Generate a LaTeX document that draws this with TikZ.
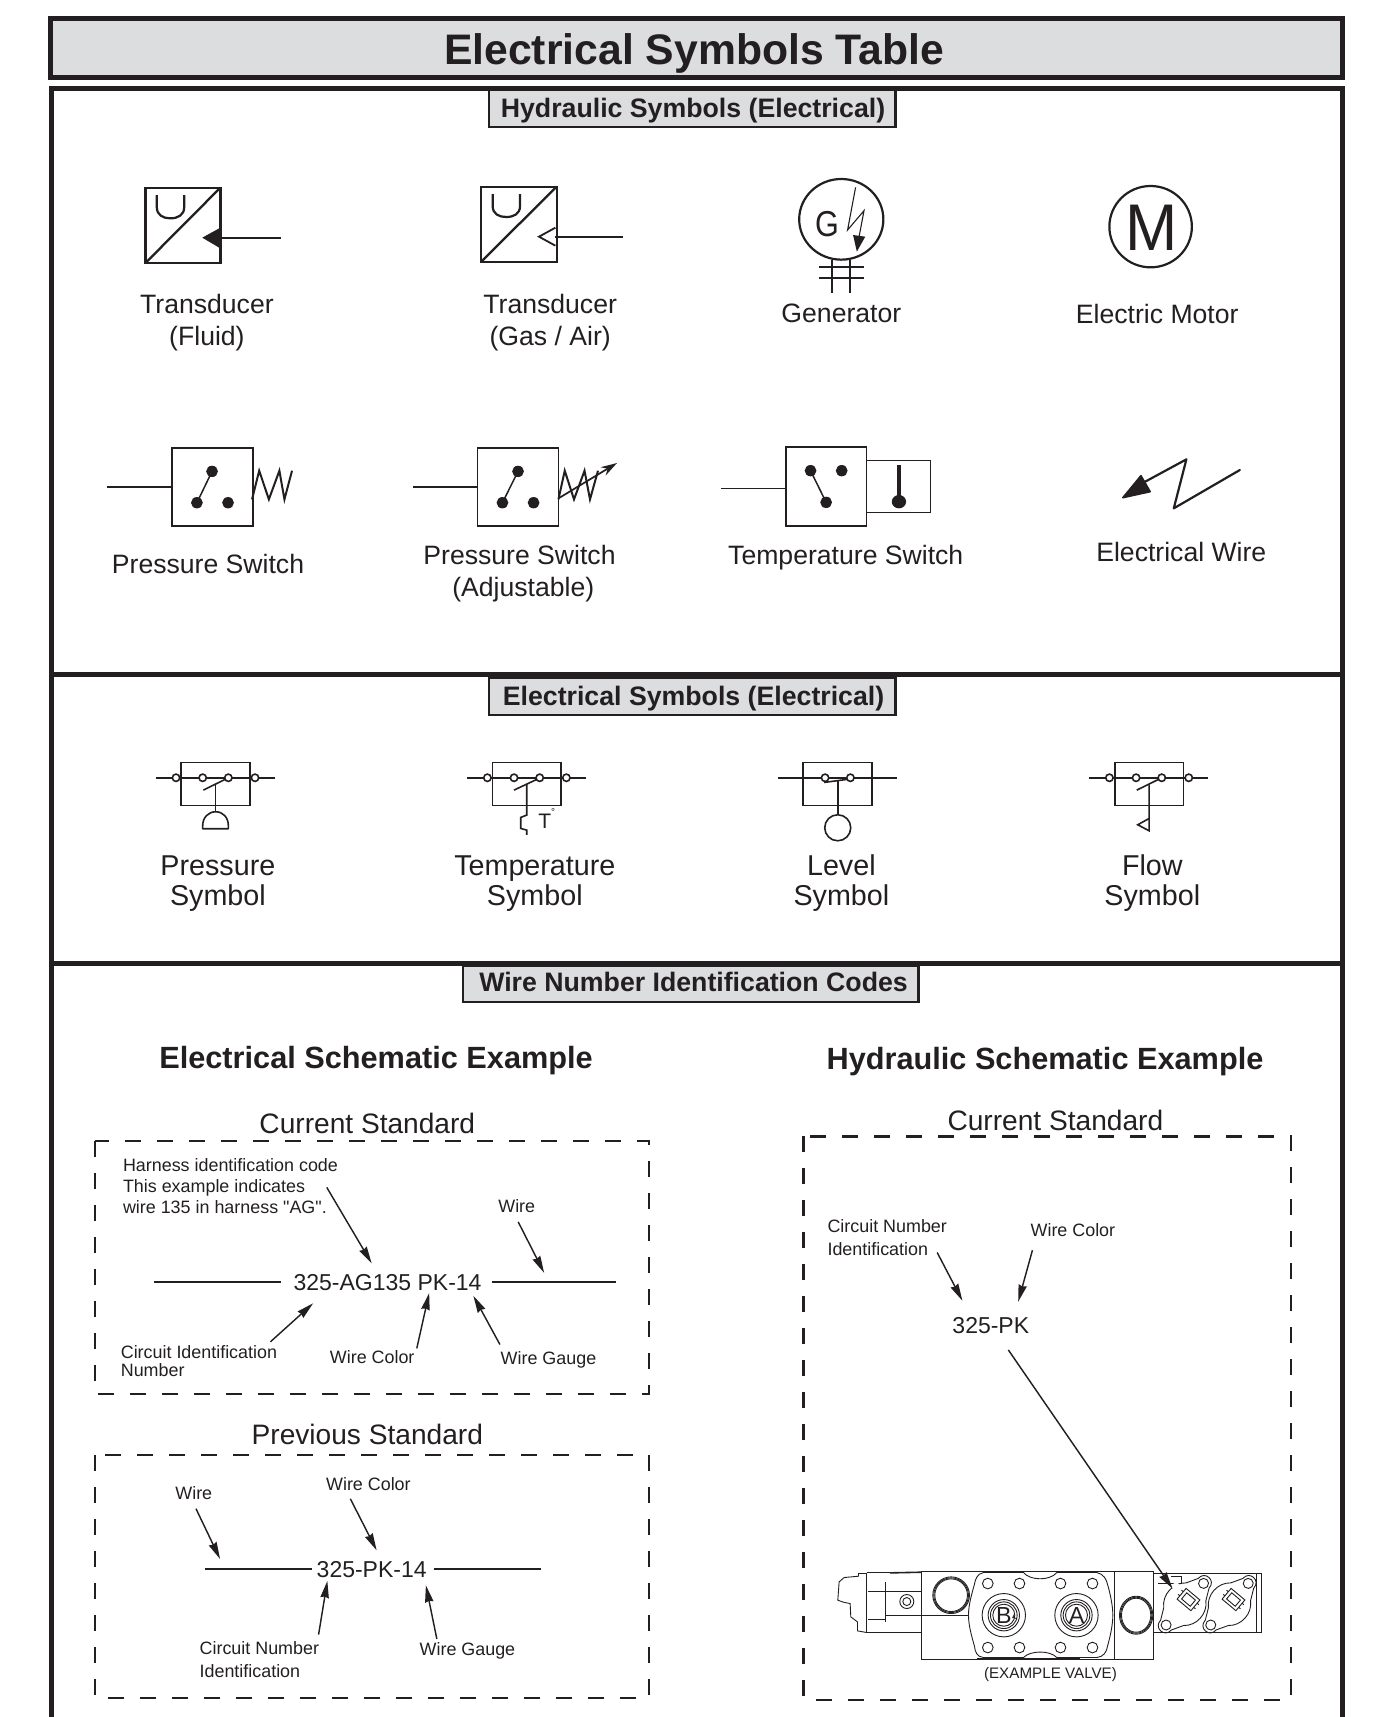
\documentclass[tikz,border=0pt]{standalone}
\usepackage{fontspec}
\setmainfont{Liberation Sans}
\usetikzlibrary{arrows.meta}
\definecolor{ink}{HTML}{231F20}
\definecolor{panel}{HTML}{DCDDDF}
\tikzset{
  lbl/.style={inner sep=0pt,anchor=base,text=ink,font=\fontsize{13.3}{16}\selectfont},
  bigl/.style={lbl,font=\fontsize{14.35}{16}\selectfont},
  stdl/.style={lbl,font=\fontsize{14.06}{16}\selectfont},
  hdr/.style={lbl,font=\bfseries\fontsize{13.35}{16}\selectfont},
  sub/.style={lbl,font=\bfseries\fontsize{15.35}{18}\selectfont},
  code/.style={lbl,font=\fontsize{11.5}{14}\selectfont},
  small/.style={lbl,anchor=base west,font=\fontsize{8.95}{11}\selectfont},
  frame/.style={draw=ink,line width=2.4pt},
  hdrbox/.style={draw=ink,fill=panel,line width=1.1pt},
  sym/.style={draw=ink,line width=1.1pt,line join=miter},
  thin sym/.style={draw=ink,line width=.75pt},
  elec/.style={draw=ink,line width=.8pt},
  dashbox/.style={draw=ink,line width=1.2pt,dash pattern=on 8pt off 8pt},
  wireline/.style={draw=ink,line width=.7pt},
  ptr/.style={draw=ink,line width=.72pt,-{Stealth[length=8.5pt,width=4.2pt,inset=.6pt]}},
  vl/.style={draw=ink,line width=.45pt},
  vh/.style={draw=ink,line width=.8pt},
  zwide/.style={x=.21044pt,y=-.16667pt},
  zsq/.style={x=.16667pt,y=-.16667pt}
}
\newcommand{\flange}[2]{%
  \begin{scope}[shift={(#1,#2)},rotate=48]
    \draw[vl] (84,-22) .. controls (100,-22) and (108,-12) .. (108,0) .. controls (108,12) and (100,22) .. (84,22) -- (50,40) .. controls (25,70) and (-25,70) .. (-50,40) -- (-84,22) .. controls (-100,22) and (-108,12) .. (-108,0) .. controls (-108,-12) and (-100,-22) .. (-84,-22) -- (-50,-40) .. controls (-25,-70) and (25,-70) .. (50,-40) -- cycle;
    \draw[vl] (84,0) circle [radius=15];
    \draw[vl] (-84,0) circle [radius=15];
  \end{scope}}
\newcommand{\plug}[2]{%
  \begin{scope}[shift={(#1,#2)},rotate=-40]
    \draw[vl,fill=white] (-27,-21) rectangle (27,21);
    \draw[vl] (-17,-12) rectangle (17,12);
    \draw[vl] (-34,-8) -- (-27,-8) (-34,8) -- (-27,8) (34,-8) -- (27,-8) (34,8) -- (27,8);
  \end{scope}}
\newcommand{\port}[3]{%
  \foreach \r in {65,47,40,33} \draw[vl] (#1,225) circle [radius=\r];
  \node[lbl,anchor=center,font=\fontsize{11.6}{14}\selectfont] (#3) at (#1,225) {#2};}
\begin{document}
\begin{tikzpicture}[x=.5474pt,y=-.5474pt]
\useasboundingbox (0,0) rectangle (1266,1568.3);
% frames
\draw[frame,fill=panel] (46,17) rectangle (1226,70.6);
\draw[frame] (47,1568.3) -- (47,81) -- (1226,81) -- (1226,1568.3);
\draw[frame] (47,616) -- (1226,616);
\draw[frame] (47,880) -- (1226,880);
\node[lbl,font=\bfseries\fontsize{21.35}{24}\selectfont] (title) at (634,59) {Electrical Symbols Table};
% section headers
\draw[hdrbox] (447,82) rectangle (818,116);
\node[hdr] (hdrA) at (633,107) {Hydraulic Symbols (Electrical)};
\draw[hdrbox] (447,619) rectangle (818,653);
\node[hdr] (hdrB) at (633.5,644) {Electrical Symbols (Electrical)};
\draw[hdrbox] (423,882) rectangle (839,915);
\node[hdr] (hdrC) at (633.5,906) {Wire Number Identification Codes};
% transducers
\begin{scope}[shift={(54.81,0)},zwide]
  \draw[sym,line width=1.15pt] (203,563) rectangle (381,789);
  \draw[sym,line width=1.15pt] (203,789) -- (381,563);
  \draw[sym] (230,585) -- (230,622) .. controls (230,645) and (245,655) .. (262,655) .. controls (280,655) and (295,645) .. (295,622) -- (295,585);
  \draw[sym] (381,713) -- (525,713);
  \fill[ink] (338,713) -- (381,683) -- (381,745) -- cycle;
  \draw[sym,line width=1.15pt] (1000,560) rectangle (1180,786);
  \draw[sym,line width=1.15pt] (1000,786) -- (1180,560);
  \draw[sym] (1028,582) -- (1028,618) .. controls (1028,642) and (1043,651) .. (1060,651) .. controls (1078,651) and (1093,642) .. (1093,618) -- (1093,582);
  \draw[sym] (1177,710) -- (1337,710);
  \draw[sym,line width=.9pt] (1177,683) -- (1138,710) -- (1177,737);
\end{scope}
\node[lbl] (t1a) at (189,286) {Transducer};
\node[lbl] (t1b) at (189,315.5) {(Fluid)};
\node[lbl] (t2a) at (502.5,286) {Transducer};
\node[lbl] (t2b) at (502.5,315.5) {(Gas / Air)};
% generator, motor, wire, temperature switch
\begin{scope}[shift={(657.7,137)},zwide]
  \draw[sym] (288,208) ellipse [x radius=100,y radius=121];
  \node[lbl,anchor=center,font=\fontsize{18}{20}\selectfont,xscale=.85] (gG) at (254,222) {G};
  \draw[thin sym,line width=.55pt] (322,112) -- (303,240) -- (342,182) -- (330,262);
  \fill[ink] (325,305) -- (316,255) -- (345,260) -- cycle;
  \draw[sym,line width=.95pt] (267,330) -- (267,428);
  \draw[sym,line width=.95pt] (308,330) -- (308,428);
  \draw[sym,line width=.95pt] (235,352) -- (342,352);
  \draw[sym,line width=.95pt] (235,384) -- (342,384);
  \draw[sym] (1023,230) ellipse [x radius=98,y radius=122];
  \node[lbl,anchor=center,font=\fontsize{33}{36}\selectfont,xscale=.95] (gM) at (1026,232) {M};
  % temperature switch
  \draw[thin sym] (2,1015) -- (157,1015);
  \draw[thin sym] (157,891) rectangle (348,1128);
  \draw[thin sym] (348,931) rectangle (500,1087);
  \draw[thin sym] (215,962) -- (252,1057);
  \fill[ink] (215,962) ellipse [x radius=14,y radius=17];
  \fill[ink] (289,962) ellipse [x radius=14,y radius=17];
  \fill[ink] (252,1057) ellipse [x radius=14,y radius=17];
  \draw[draw=ink,line width=1.7pt] (425,945) -- (425,1055);
  \fill[ink] (425,1055) ellipse [x radius=17,y radius=20];
  % electrical wire
  \draw[sym,line join=round,line cap=round] (1235,960) -- (1078,1075) -- (1108,928) -- (1010,995);
  \fill[ink,draw=ink,line width=.8pt,line join=round] (957,1043) -- (1000,977) -- (1022,1025) -- cycle;
\end{scope}
\node[lbl] (gen) at (768.5,294.5) {Generator};
\node[lbl] (mot) at (1057,295.5) {Electric Motor};
% pressure switches
\begin{scope}[shift={(82.2,392.8)},zwide]
  \draw[thin sym] (195,54) rectangle (387,288);
  \draw[sym,line width=.9pt] (40,171) -- (195,171);
  \draw[thin sym] (290,124) -- (254,218);
  \fill[ink] (290,124) ellipse [x radius=14,y radius=17];
  \fill[ink] (254,218) ellipse [x radius=14,y radius=17];
  \fill[ink] (328,218) ellipse [x radius=14,y radius=17];
  \draw[sym,line width=1pt] (385,208) -- (402,122) -- (425,208) -- (450,122) -- (462,208) -- (480,122);
  \draw[thin sym] (921,54) rectangle (1113,288);
  \draw[sym,line width=.9pt] (767,171) -- (921,171);
  \draw[thin sym] (1017,124) -- (980,218);
  \fill[ink] (1017,124) ellipse [x radius=14,y radius=17];
  \fill[ink] (980,218) ellipse [x radius=14,y radius=17];
  \fill[ink] (1054,218) ellipse [x radius=14,y radius=17];
  \draw[sym,line width=1pt] (1113,208) -- (1128,122) -- (1150,208) -- (1175,122) -- (1188,208) -- (1207,122);
  \draw[draw=ink,line width=.85pt,-{Stealth[length=8pt,width=4.8pt]}] (1113,205) -- (1252,99);
\end{scope}
\node[lbl] (ps1) at (190,524) {Pressure Switch};
\node[lbl] (ps2a) at (474.5,516) {Pressure Switch};
\node[lbl] (ps2b) at (478,545) {(Adjustable)};
\node[lbl] (tsw) at (772.5,516) {Temperature Switch};
\node[lbl] (ew) at (1079,513) {Electrical Wire};
% electrical symbols
\begin{scope}[shift={(118.75,676)},zsq]
  \draw[elec] (153,67) rectangle (360,196);
  \draw[elec] (78,113) -- (435,113);
  \foreach \cx in {138,218,295,375} \draw[elec,fill=white] (\cx,113) circle [radius=11];
  \draw[elec] (220,150) -- (285,118);
  \draw[elec] (257,133) -- (257,215);
  \draw[elec,line join=round] (218,266) -- (218,257) .. controls (218,232) and (235,215) .. (257,215) .. controls (279,215) and (295,232) .. (295,257) -- (295,266) -- cycle;
  \draw[elec] (1087,67) rectangle (1293,196);
  \draw[elec] (1012,113) -- (1368,113);
  \foreach \cx in {1072,1152,1229,1309} \draw[elec,fill=white] (\cx,113) circle [radius=11];
  \draw[elec] (1152,150) -- (1220,118);
  \draw[elec] (1190,133) -- (1190,225) -- (1172,232) -- (1172,265) -- (1190,270) -- (1190,284);
  \node[lbl,anchor=center,font=\fontsize{10.5}{12}\selectfont] (tT) at (1250,236) {T\raisebox{1.2ex}{\fontsize{5}{6}\selectfont °}};
\end{scope}
\begin{scope}[shift={(685.1,676)},zsq]
  \draw[elec] (159,67) rectangle (366,196);
  \draw[elec] (85,113) -- (441,113);
  \foreach \cx in {225,301} \draw[elec,fill=white] (\cx,113) circle [radius=11];
  \draw[elec] (222,127) -- (290,118);
  \draw[elec] (263,122) -- (263,224);
  \draw[elec] (263,263) circle [radius=39];
  \draw[elec] (1094,67) rectangle (1300,196);
  \draw[elec] (1018,113) -- (1375,113);
  \foreach \cx in {1078,1158,1235,1316} \draw[elec,fill=white] (\cx,113) circle [radius=11];
  \draw[elec] (1160,150) -- (1225,118);
  \draw[elec] (1197,133) -- (1197,272) -- (1163,254) -- (1197,235);
\end{scope}
\node[bigl] (e1a) at (199,800) {Pressure};
\node[bigl] (e1b) at (199,827) {Symbol};
\node[bigl] (e2a) at (488.5,800) {Temperature};
\node[bigl] (e2b) at (488.5,827) {Symbol};
\node[bigl] (e3a) at (768.5,800) {Level};
\node[bigl] (e3b) at (768.5,827) {Symbol};
\node[bigl] (e4a) at (1052.5,800) {Flow};
\node[bigl] (e4b) at (1052.5,827) {Symbol};
% wire number section
\node[sub] (s1) at (343.5,976) {Electrical Schematic Example};
\node[sub] (s2) at (954.5,977) {Hydraulic Schematic Example};
\node[stdl] (cs1) at (335.5,1035) {Current Standard};
\node[stdl] (ps) at (335.5,1319) {Previous Standard};
\node[stdl] (cs2) at (964,1032.5) {Current Standard};
\draw[dashbox] (87,1042) rectangle (593,1273);
\draw[dashbox] (87,1329) rectangle (593,1551);
\draw[dashbox] (734,1038) rectangle (1179,1553);
% current standard, electrical
\node[small] (h1) at (112,1070) {Harness identification code};
\node[small] (h2) at (112,1089) {This example indicates};
\node[small] (h3) at (112,1108) {wire 135 in harness \XeTeXglyph\XeTeXcharglyph"22\relax AG\XeTeXglyph\XeTeXcharglyph"22\relax.};
\node[small,anchor=base] (w1) at (472,1107.5) {Wire};
\node[code] (c1) at (354,1179) {325-AG135 PK-14};
\node[small] (ci1) at (110,1241) {Circuit Identification};
\node[small] (ci2) at (110,1257) {Number};
\node[small] (wc1) at (301,1245) {Wire Color};
\node[small] (wg1) at (457,1246) {Wire Gauge};
\coordinate (L1a) at (141,1171); \coordinate (L1b) at (257,1171);
\coordinate (L1c) at (449,1171); \coordinate (L1d) at (563,1171);
\draw[wireline] (L1a) -- (L1b);
\draw[wireline] (L1c) -- (L1d);
\coordinate (A1a) at (298.5,1084.6); \coordinate (A1b) at (339.5,1154);
\coordinate (A2a) at (473.3,1116); \coordinate (A2b) at (497,1162.6);
\coordinate (A3a) at (247,1225.6); \coordinate (A3b) at (286,1190.4);
\coordinate (A4a) at (380.7,1231.6); \coordinate (A4b) at (392,1181);
\coordinate (A5a) at (456.6,1228); \coordinate (A5b) at (432.4,1183.6);
\draw[ptr] (A1a) -- (A1b);
\draw[ptr] (A2a) -- (A2b);
\draw[ptr] (A3a) -- (A3b);
\draw[ptr] (A4a) -- (A4b);
\draw[ptr] (A5a) -- (A5b);
% previous standard
\node[small,anchor=base] (w2) at (177,1369.5) {Wire};
\node[small,anchor=base] (wc2) at (336.5,1361.5) {Wire Color};
\node[code] (c2) at (339.5,1441) {325-PK-14};
\node[small] (cn1) at (182,1511.5) {Circuit Number};
\node[small] (cn2) at (182,1532.5) {Identification};
\node[small] (wg2) at (383,1512) {Wire Gauge};
\coordinate (L2a) at (187,1433); \coordinate (L2b) at (285,1433);
\coordinate (L2c) at (396,1433); \coordinate (L2d) at (494,1433);
\draw[wireline] (L2a) -- (L2b);
\draw[wireline] (L2c) -- (L2d);
\coordinate (B1a) at (179,1378); \coordinate (B1b) at (201,1424);
\coordinate (B2a) at (320,1369); \coordinate (B2b) at (344,1416);
\coordinate (B3a) at (291,1493); \coordinate (B3b) at (299,1444);
\coordinate (B4a) at (399,1497); \coordinate (B4b) at (389,1448);
\draw[ptr] (B1a) -- (B1b);
\draw[ptr] (B2a) -- (B2b);
\draw[ptr] (B3a) -- (B3b);
\draw[ptr] (B4a) -- (B4b);
% hydraulic example
\node[small] (hc1) at (755.5,1126) {Circuit Number};
\node[small] (hc2) at (755.5,1147) {Identification};
\node[small] (hw) at (941,1129) {Wire Color};
\node[code] (c3) at (905,1218) {325-PK};
\node[lbl,font=\fontsize{7.6}{9}\selectfont] (ev) at (959.5,1533.5) {(EXAMPLE VALVE)};
% valve
\begin{scope}[shift={(749.1,1406.8)},zsq]
  \draw[vl] (140,100) -- (115,100) -- (115,108) -- (72,112) -- (57,125) -- (53,180) -- (70,186) -- (90,190) -- (92,230) -- (112,245) -- (112,272) -- (140,277);
  \draw[vl] (140,97) -- (305,97); \draw[vl] (140,97) -- (140,277) -- (305,277);
  \draw[vh] (210,98) -- (305,96);
  \draw[vl] (143,155) -- (305,155);
  \draw[vl] (195,125) -- (195,245);
  \draw[vl] (143,237) -- (195,237);
  \draw[vl] (195,225) -- (445,225);
  \draw[vl] (260,184) circle [radius=21];
  \draw[vl] (260,184) circle [radius=12];
  \draw[vl] (305,95) rectangle (1000,357);
  \draw[vh] (470,94) -- (990,94);
  \draw[vh] (470,356) -- (780,356);
  \draw[vl] (883,96) -- (883,356);
  \foreach \r in {55,52,49} \draw[vl] (393,165) circle [radius=\r];
  \foreach \r in {0,3,6} \draw[vl] (948,225) ellipse [x radius=50-\r,y radius=57-\r];
  \draw[vl] (490,97) -- (610,97) .. controls (630,122) and (690,122) .. (710,97) -- (830,97) .. controls (850,100) and (860,120) .. (862,132) .. controls (870,160) and (878,195) .. (878,225) .. controls (878,255) and (870,290) .. (862,318) .. controls (860,335) and (850,350) .. (830,352) -- (710,352) .. controls (690,330) and (630,330) .. (610,352) -- (490,352) .. controls (470,350) and (465,335) .. (463,318) .. controls (455,290) and (445,255) .. (445,225) .. controls (445,195) and (455,160) .. (463,132) .. controls (465,120) and (470,100) .. (490,97) -- cycle;
  \foreach \cx in {503,598,721,817} {
    \draw[vl] (\cx,130) circle [radius=16];
    \draw[vl] (\cx,322) circle [radius=16];
  }
  \port{551}{B}{vB}
  \port{769}{A}{vA}
  \draw[vl] (583,222) -- (578,232) -- (590,235);
  \draw[vl] (1000,100) rectangle (1323,277);
  \draw[vl] (1310,100) -- (1310,277);
  \draw[vl] (1053,108) -- (1085,108) -- (1085,130) -- (1015,130);
  \flange{1094}{192}
  \flange{1228}{192}
  \fill[white] (1068,140) circle [radius=13];
  \plug{1105}{178}
  \plug{1240}{178}
\end{scope}
\coordinate (C1a) at (856,1144); \coordinate (C1b) at (879,1188);
\coordinate (C2a) at (943,1142); \coordinate (C2b) at (930,1189);
\coordinate (C3a) at (921,1233); \coordinate (C3b) at (1071,1451);
\draw[ptr] (C1a) -- (C1b);
\draw[ptr] (C2a) -- (C2b);
\draw[ptr] (C3a) -- (C3b);
\end{tikzpicture}
\end{document}
